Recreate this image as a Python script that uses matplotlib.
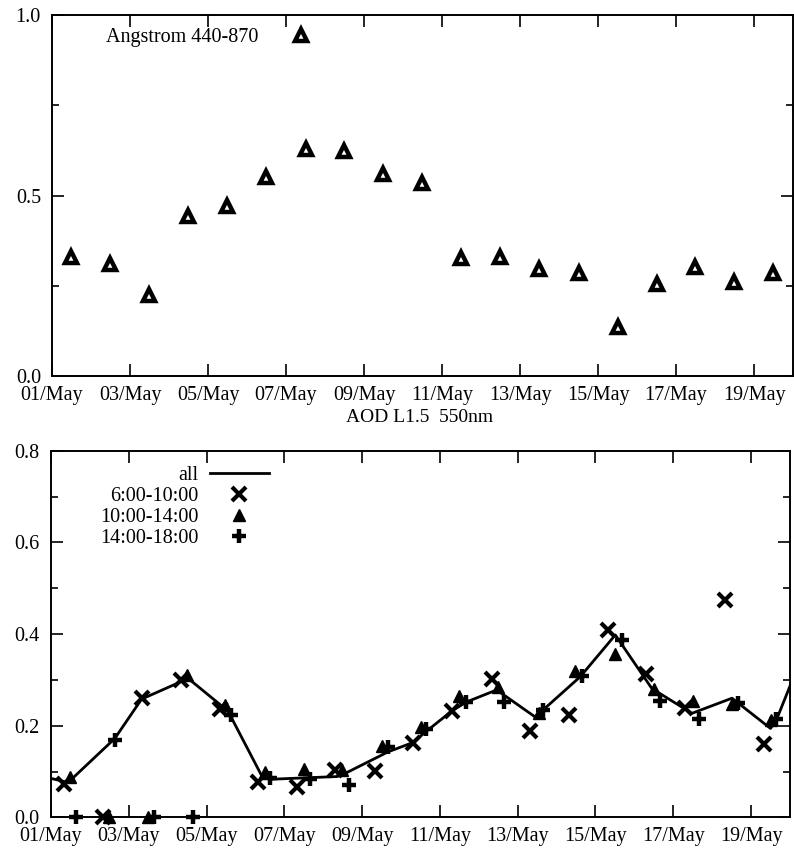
"""
AOD / Angstrom 两联图：上图 Angstrom 440-870，下图 AOD L1.5 550nm 分时段
"""
import numpy as np
import pandas as pd
import matplotlib
matplotlib.use("Agg")
import matplotlib.pyplot as plt
import matplotlib.dates as mdates
from matplotlib.ticker import MultipleLocator, FormatStrFormatter

plt.rcParams["font.family"] = ["Liberation Serif", "DejaVu Serif"]

START = pd.Timestamp("2012-05-01")
END = pd.Timestamp("2012-05-20")

# ---------------------------------------------------------------------------
# 数据（时间为距 5 月 1 日 00:00 的天数）
# ---------------------------------------------------------------------------
ang_day = [0.48, 1.49, 2.49, 3.49, 4.48, 5.48, 6.38, 6.50, 7.49, 8.49,
           9.48, 10.49, 11.49, 12.49, 13.50, 14.50, 15.50, 16.49, 17.49, 18.49]
ang_val = [0.330, 0.310, 0.224, 0.444, 0.471, 0.551, 0.946, 0.628, 0.624, 0.559,
           0.535, 0.328, 0.330, 0.297, 0.286, 0.137, 0.255, 0.303, 0.261, 0.284]

# "all" 曲线
all_day = [0.00, 0.44, 1.64, 2.33, 3.53, 4.55, 5.41, 5.63, 7.35, 7.52, 8.67,
           9.30, 9.64, 10.32, 10.69, 11.46, 12.45, 13.61, 14.51, 15.45, 16.48,
           17.51, 18.50, 18.65, 19.30]
all_val = [0.085, 0.076, 0.172, 0.258, 0.303, 0.232, 0.092, 0.083, 0.089, 0.094, 0.143,
           0.163, 0.187, 0.233, 0.252, 0.278, 0.219, 0.307, 0.398, 0.281, 0.227,
           0.260, 0.194, 0.212, 0.350]

# 6:00-10:00
am_day = [0.34, 1.34, 2.33, 3.34, 4.34, 5.33, 6.32, 7.30, 8.33, 9.30,
          10.32, 11.34, 12.32, 13.31, 14.32, 15.30, 16.29, 17.32, 18.33]
am_val = [0.073, 0.000, 0.260, 0.300, 0.236, 0.078, 0.067, 0.103, 0.102, 0.163,
          0.233, 0.301, 0.189, 0.223, 0.409, 0.312, 0.239, 0.474, 0.160]

# 10:00-14:00
noon_day = [0.48, 1.48, 2.50, 3.51, 4.47, 5.50, 6.51, 7.47, 8.50, 9.52,
            10.49, 11.50, 12.54, 13.48, 14.49, 15.50, 16.51, 17.51, 18.50]
noon_val = [0.087, 0.000, 0.000, 0.310, 0.245, 0.099, 0.105, 0.103, 0.156, 0.198,
            0.265, 0.285, 0.228, 0.320, 0.356, 0.281, 0.254, 0.247, 0.212]

# 14:00-18:00
pm_day = [0.65, 1.64, 2.65, 3.65, 4.64, 5.63, 6.66, 7.65, 8.66, 9.64,
          10.67, 11.65, 12.65, 13.65, 14.68, 15.65, 16.67, 17.67, 18.65]
pm_val = [0.000, 0.169, 0.000, 0.000, 0.223, 0.085, 0.083, 0.070, 0.153, 0.192,
          0.252, 0.252, 0.234, 0.308, 0.387, 0.254, 0.214, 0.249, 0.214]


def to_time(days):
    return START + pd.to_timedelta(np.asarray(days), unit="D")


def style_axis(ax, ymax, ymajor, yminor):
    ax.set_xlim(START, END)
    ax.set_ylim(0, ymax)
    ax.xaxis.set_major_locator(mdates.DayLocator(bymonthday=range(1, 32, 2)))
    ax.xaxis.set_major_formatter(mdates.DateFormatter("%d/%b"))
    ax.yaxis.set_major_locator(MultipleLocator(ymajor))
    ax.yaxis.set_minor_locator(MultipleLocator(yminor))
    ax.yaxis.set_major_formatter(FormatStrFormatter("%.1f"))
    ax.tick_params(which="both", direction="in", top=True, right=True,
                   width=1.2, labelsize=14.5)
    ax.tick_params(which="major", length=8.5)
    ax.tick_params(which="minor", length=5)
    ax.tick_params(axis="y", pad=8)
    ax.tick_params(axis="x", pad=7)
    for sp in ax.spines.values():
        sp.set_linewidth(1.4)


fig = plt.figure(figsize=(7.94, 8.49), dpi=100)

# ------- 上图：Angstrom -------
ax1 = fig.add_axes([0.0655, 0.5571, 0.9333, 0.4252])
ax1.plot(to_time(ang_day), ang_val, linestyle="none", marker="^",
         markersize=9, markerfacecolor="white", markeredgecolor="black",
         markeredgewidth=3.2)
ax1.text(0.073, 0.937, "Angstrom 440-870", transform=ax1.transAxes,
         fontsize=14.5, va="center", ha="left")
style_axis(ax1, 1.0, 0.5, 0.25)

fig.text(420 / 794, 1 - 418 / 849, "AOD L1.5  550nm", ha="center", va="center",
         fontsize=14)

# ------- 下图：AOD -------
ax2 = fig.add_axes([0.0642, 0.0373, 0.9307, 0.4318])
ax2.plot(to_time(all_day), all_val, color="black", linewidth=2, label="all")
ax2.plot(to_time(am_day), am_val, linestyle="none", marker="x", markersize=10,
         markeredgewidth=3, color="black", label="6:00-10:00", clip_on=False)
ax2.plot(to_time(noon_day), noon_val, linestyle="none", marker="^", markersize=8,
         color="black", label="10:00-14:00", clip_on=False)
ax2.plot(to_time(pm_day), pm_val, linestyle="none", marker="+", markersize=10,
         markeredgewidth=3.2, color="black", label="14:00-18:00", clip_on=False)
style_axis(ax2, 0.8, 0.2, 0.1)

ax2.legend(loc="upper left", bbox_to_anchor=(0.066, 0.959), frameon=False,
           markerfirst=False, fontsize=14.5, handlelength=2.9, handletextpad=0.6,
           labelspacing=0.1, borderpad=0, borderaxespad=0)

fig.savefig("out.png", dpi=100, facecolor="white")
